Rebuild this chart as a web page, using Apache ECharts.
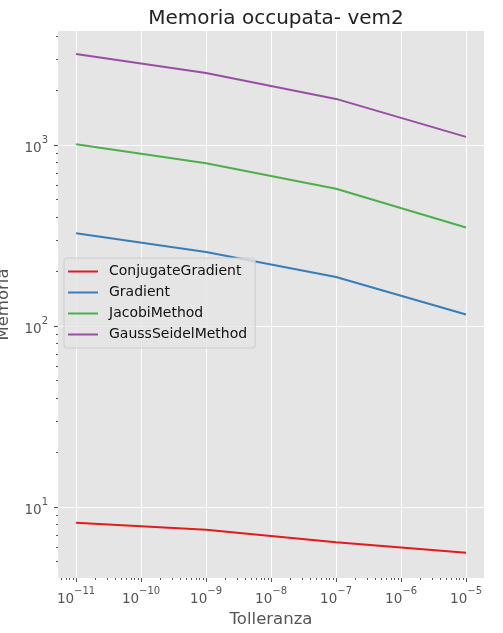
<!DOCTYPE html>
<html>
<head>
<meta charset="utf-8">
<script src="https://cdn.jsdelivr.net/npm/echarts@6/dist/echarts.min.js"></script>
<style>
  html, body { margin: 0; padding: 0; background: #fff; }
  #main { width: 503px; height: 633px; }
</style>
</head>
<body>
<div id="main"></div>
<script>
var myChart = echarts.init(document.getElementById('main'));

// tolleranze usate
var tolleranze = [1e-11, 1e-9, 1e-7, 1e-5];

// memoria occupata per metodo
var conjugateGradient = [8.2, 7.5, 6.4, 5.6];
var gradient = [326, 257, 187, 116];
var jacobiMethod = [1010, 793, 574, 351];
var gaussSeidelMethod = [3190, 2500, 1800, 1110];

var nomi = ['ConjugateGradient', 'Gradient', 'JacobiMethod', 'GaussSeidelMethod'];
var colori = ['#e41a1c', '#377eb8', '#4daf4a', '#984ea3'];

// tacche principali (decadi) e secondarie
var xDecadi = [1e-11, 1e-10, 1e-9, 1e-8, 1e-7, 1e-6, 1e-5];
var yDecadi = [1e1, 1e2, 1e3];
var xMinori = [];
var yMinori = [];
[-12, -11, -10, -9, -8, -7, -6, -5].forEach(function (e) {
  for (var k = 2; k <= 9; k++) xMinori.push(k * Math.pow(10, e));
});
[0, 1, 2, 3].forEach(function (e) {
  for (var k = 2; k <= 9; k++) yMinori.push(k * Math.pow(10, e));
});

var xMin = 5.28e-12, xMax = 1.89e-5;
var yMin = 4.06, yMax = 4270;
xMinori = xMinori.filter(function (v) { return v > xMin && v < xMax; });
yMinori = yMinori.filter(function (v) { return v > yMin && v < yMax; });

function coppie(ys) {
  return tolleranze.map(function (x, i) { return [x, ys[i]]; });
}

// etichette 10^n con esponente in apice
function potenza(v) {
  var n = Math.round(Math.log(v) / Math.LN10);
  var s = n < 0 ? '\u2212' + (-n) : '' + n;
  return '{b|10}{s|' + s + '}';
}

var rich = {
  b: { fontSize: 13.5, color: '#555', fontFamily: 'DejaVu Sans', verticalAlign: 'bottom', lineHeight: 20 },
  s: { fontSize: 10, color: '#555', fontFamily: 'DejaVu Sans', verticalAlign: 'top', lineHeight: 20 }
};

var tacca = { color: '#555', width: 1 };

var option = {
  animation: false,
  textStyle: { fontFamily: 'DejaVu Sans' },
  title: {
    text: 'Memoria occupata- vem2',
    left: 271,
    textAlign: 'center',
    top: 4,
    textStyle: { fontSize: 20, fontWeight: 'normal', color: '#222', fontFamily: 'DejaVu Sans' }
  },
  grid: {
    left: 58,
    right: 19,
    top: 31,
    bottom: 55,
    containLabel: false,
    outerBoundsMode: 'none',
    show: true,
    backgroundColor: '#e5e5e5',
    borderWidth: 0
  },
  legend: {
    orient: 'vertical',
    left: 64,
    top: 258,
    padding: [3, 8, 3, 4],
    itemGap: 0,
    itemWidth: 30,
    itemHeight: 2,
    icon: 'rect',
    backgroundColor: 'rgba(229,229,229,0.8)',
    borderColor: '#cccccc',
    borderWidth: 1,
    borderRadius: 3,
    textStyle: { fontSize: 14, color: '#111', fontFamily: 'DejaVu Sans', lineHeight: 21, padding: [0, 0, 0, 6] },
    data: nomi
  },
  xAxis: [{
    type: 'log',
    logBase: 10,
    min: xMin,
    max: xMax,
    name: 'Tolleranza',
    nameLocation: 'middle',
    nameGap: 32,
    nameTextStyle: { fontSize: 16.5, color: '#555', fontFamily: 'DejaVu Sans' },
    axisLine: { show: false },
    axisTick: { show: true, length: 4, lineStyle: tacca, customValues: xDecadi },
    axisLabel: { margin: 8, formatter: potenza, rich: rich, customValues: xDecadi },
    splitLine: { show: true, lineStyle: { color: '#ffffff', width: 1 } }
  }, {
    type: 'log',
    logBase: 10,
    min: xMin,
    max: xMax,
    position: 'bottom',
    axisLine: { show: false },
    axisTick: { show: true, length: 2, lineStyle: tacca, customValues: xMinori },
    axisLabel: { show: false },
    splitLine: { show: false }
  }],
  yAxis: [{
    type: 'log',
    logBase: 10,
    min: yMin,
    max: yMax,
    name: 'Memoria',
    nameLocation: 'middle',
    nameGap: 46,
    nameTextStyle: { fontSize: 16.5, color: '#555', fontFamily: 'DejaVu Sans' },
    axisLine: { show: false },
    axisTick: { show: true, length: 4, lineStyle: tacca, customValues: yDecadi },
    axisLabel: { margin: 10, formatter: potenza, rich: rich, customValues: yDecadi },
    splitLine: { show: true, lineStyle: { color: '#ffffff', width: 1 } }
  }, {
    type: 'log',
    logBase: 10,
    min: yMin,
    max: yMax,
    position: 'left',
    axisLine: { show: false },
    axisTick: { show: true, length: 2, lineStyle: tacca, customValues: yMinori },
    axisLabel: { show: false },
    splitLine: { show: false }
  }],
  series: nomi.map(function (n, i) {
    return {
      name: n,
      type: 'line',
      symbol: 'none',
      color: colori[i],
      lineStyle: { width: 2, color: colori[i] },
      data: coppie([conjugateGradient, gradient, jacobiMethod, gaussSeidelMethod][i])
    };
  })
};

option && myChart.setOption(option);
</script>
</body>
</html>
